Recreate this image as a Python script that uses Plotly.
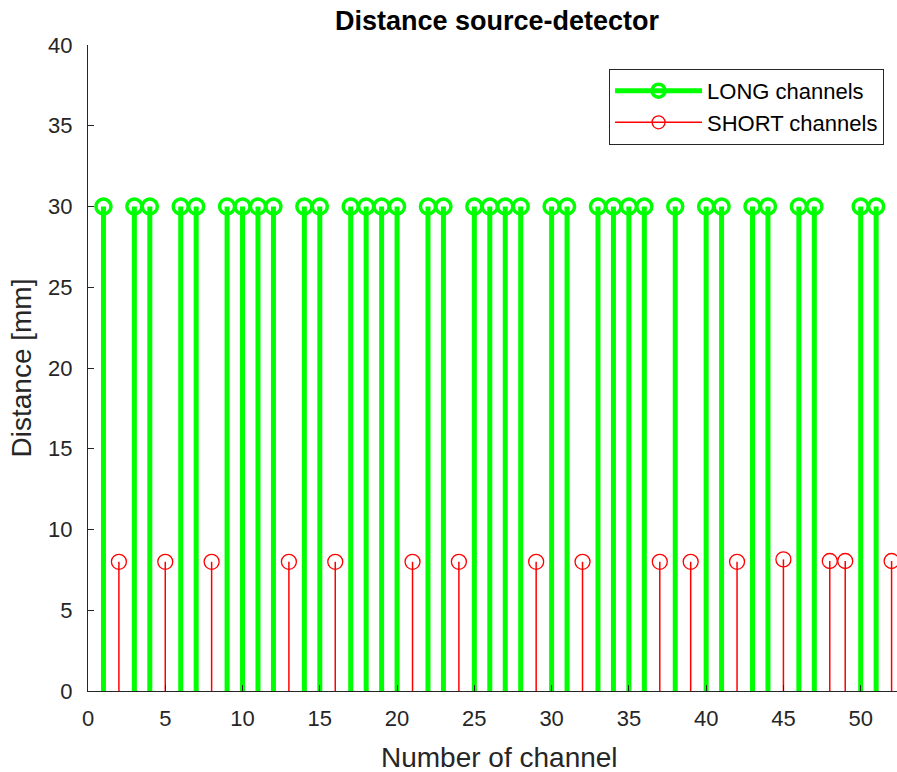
import plotly.graph_objects as go

# ---- data ----
long_channels = [1, 3, 4, 6, 7, 9, 10, 11, 12, 14, 15, 17, 18, 19, 20, 22, 23, 25,
                 26, 27, 28, 30, 31, 33, 34, 35, 36, 38, 40, 41, 43, 44, 46, 47, 50, 51]
long_distance = [30, 30, 30, 30, 30, 30, 30, 30, 30, 30, 30, 30, 30, 30, 30, 30, 30, 30,
                 30, 30, 30, 30, 30, 30, 30, 30, 30, 30, 30, 30, 30, 30, 30, 30, 30, 30]
short_channels = [2, 5, 8, 13, 16, 21, 24, 29, 32, 37, 39, 42, 45, 48, 49, 52]
short_distance = [8, 8, 8, 8, 8, 8, 8, 8, 8, 8, 8, 8, 8.15, 8.05, 8.05, 8.05]

x_ticks = [0, 5, 10, 15, 20, 25, 30, 35, 40, 45, 50]
y_ticks = [0, 5, 10, 15, 20, 25, 30, 35, 40]

GREEN = "#00FF00"
RED = "#FF0000"
AX = "#262626"
FONT = "Liberation Sans, Arial, sans-serif"


def stems(xs, ys):
    sx, sy = [], []
    for xv, yv in zip(xs, ys):
        sx += [xv, xv, None]
        sy += [0, yv, None]
    return sx, sy


fig = go.Figure()

lx, ly = stems(long_channels, long_distance)
fig.add_trace(go.Scatter(x=lx, y=ly, mode="lines", line=dict(color=GREEN, width=5),
                         showlegend=False, hoverinfo="skip", cliponaxis=False))
fig.add_trace(go.Scatter(x=long_channels, y=long_distance, mode="markers",
                         marker=dict(symbol="circle-open", size=15, color=GREEN,
                                     line=dict(width=3.5, color=GREEN)),
                         showlegend=False, cliponaxis=False))

sx, sy = stems(short_channels, short_distance)
fig.add_trace(go.Scatter(x=sx, y=sy, mode="lines", line=dict(color=RED, width=1.5),
                         showlegend=False, hoverinfo="skip", cliponaxis=False))
fig.add_trace(go.Scatter(x=short_channels, y=short_distance, mode="markers",
                         marker=dict(symbol="circle-open", size=15, color=RED,
                                     line=dict(width=1.3, color=RED)),
                         showlegend=False, cliponaxis=False))

# legend entries
fig.add_trace(go.Scatter(x=[None], y=[None], mode="lines+markers", name="LONG channels",
                         line=dict(color=GREEN, width=5),
                         marker=dict(symbol="circle-open", size=13, color=GREEN,
                                     line=dict(width=3.5, color=GREEN))))
fig.add_trace(go.Scatter(x=[None], y=[None], mode="lines+markers", name="SHORT channels",
                         line=dict(color=RED, width=1.5),
                         marker=dict(symbol="circle-open", size=13, color=RED,
                                     line=dict(width=1.3, color=RED))))

fig.update_layout(
    width=897, height=772,
    margin=dict(l=88, r=0, t=45, b=81),
    paper_bgcolor="white", plot_bgcolor="white",
    font=dict(family=FONT, color=AX),
    title=dict(text="<b>Distance source-detector</b>", x=497 / 897, xanchor="center",
               y=1 - 21 / 772, yanchor="middle", font=dict(size=27, color="#000000")),
    legend=dict(x=0.984, y=0.963, xanchor="right", yanchor="top",
                bgcolor="white", bordercolor=AX, borderwidth=1,
                font=dict(size=22, color="#000000"), itemwidth=87,
                traceorder="normal"),
    showlegend=True,
    annotations=[dict(text="Number of channel", xref="paper", yref="paper",
                      x=(499 - 88) / 809, y=-(757 - 691) / 646,
                      xanchor="center", yanchor="middle", showarrow=False,
                      font=dict(size=28, color=AX, family=FONT))],
)

fig.update_xaxes(range=[0, 52.35], tickmode="array", tickvals=x_ticks,
                 ticktext=[str(v) for v in x_ticks],
                 showgrid=False, zeroline=False, showline=True, linecolor=AX, linewidth=1,
                 ticks="inside", ticklen=6, tickcolor=AX, tickwidth=1,
                 tickfont=dict(size=22, color=AX), ticklabelstandoff=8,
                 mirror=False)
fig.update_yaxes(range=[0, 40], tickmode="array", tickvals=y_ticks,
                 ticktext=[str(v) for v in y_ticks],
                 showgrid=False, zeroline=False, showline=True, linecolor=AX, linewidth=1,
                 ticks="inside", ticklen=6, tickcolor=AX, tickwidth=1,
                 tickfont=dict(size=22, color=AX), ticklabelstandoff=10,
                 title=dict(text="Distance [mm]", font=dict(size=28, color=AX), standoff=8),
                 mirror=False)

fig.write_html("out.html")
